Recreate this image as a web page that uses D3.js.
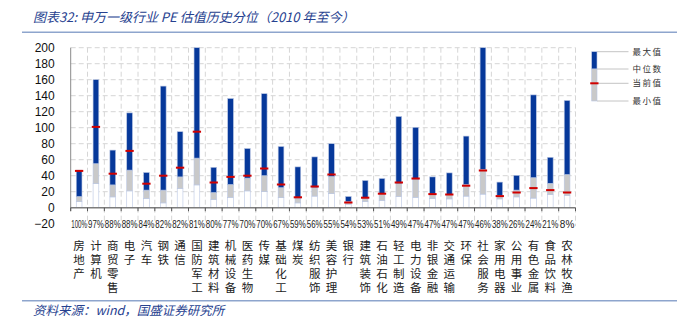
<!DOCTYPE html>
<html>
<head>
<meta charset="utf-8">
<script src="https://cdn.jsdelivr.net/npm/d3@7"></script>
<style>
  html, body { margin: 0; padding: 0; background: #fff; }
  svg { display: block; }
</style>
</head>
<body>
<svg id="chart" width="677" height="326"></svg>
<script>
// 申万一级行业 PE: historical max / median / min since 2010, current value and its percentile
const categories = ["房地产","计算机","商贸零售","电子","汽车","钢铁","通信","国防军工","建筑材料","机械设备",
  "医药生物","传媒","基础化工","煤炭","纺织服饰","美容护理","银行","建筑装饰","石油石化","轻工制造",
  "电力设备","非银金融","交通运输","环保","社会服务","家用电器","公用事业","有色金属","食品饮料","农林牧渔"];
const percentiles = ["100%","97%","88%","88%","84%","82%","82%","81%","80%","77%",
  "70%","70%","67%","59%","56%","55%","54%","53%","51%","49%",
  "47%","47%","47%","47%","46%","38%","26%","24%","21%","8%"];
const maxValues = [47,160,72,118.5,44,152,95,200,50.5,136.5,
  74,142.5,76.5,51,63.5,80,14,34,36.5,114,
  100.5,38.5,43.5,89.5,200,32,40.5,141,63,134];
const medianValues = [14,55,28.5,47,22,22,38.5,62,19,29,
  37,40,25,12,25,39,7.5,12,17.5,30,
  35.5,17,16.5,29,48,15,22,37.5,30.5,41.5];
const currentValues = [46,101,42.5,71,30,40,50,95,31.5,38.5,
  40,49,29,13,26.5,41.5,6.5,12.5,17.5,31.5,
  36.5,17,16.5,27.5,46.5,14.5,19,24.5,22,19];
const minValues = [7.5,30,13.5,21,11.5,6,24,28.5,10,13,
  21,20,12.5,6,14.5,17.5,4.5,7.5,9,14,
  13,11.5,11,14.5,17,11,13.5,12,16.5,15];
const yTicks = [200,180,160,140,120,100,80,60,40,20,0,-20];
const legendLabels = ["最大值","中位数","当前值","最小值"];

const BLUE = "#06389a", GRAY = "#c9c9c9", RED = "#d00000", EDGE = "#b9c6e3";
const TITLE_BLUE = "#26418f";
const CJK = "'Noto Sans CJK SC', sans-serif";
const SANS = "'Liberation Sans', Arial, sans-serif";

const svg = d3.select("#chart");

// Title and footer
svg.append("text").attr("x", 33).attr("y", 21.5)
  .attr("font-family", CJK).attr("font-size", 13).attr("font-style", "italic")
  .attr("fill", TITLE_BLUE)
  .text("图表32:  申万一级行业 PE 估值历史分位（2010 年至今）");
svg.append("line").attr("x1", 22).attr("x2", 677).attr("y1", 32.3).attr("y2", 32.3)
  .attr("stroke", "#8ea5cd").attr("stroke-width", 1.5);
svg.append("line").attr("x1", 22).attr("x2", 677).attr("y1", 300.7).attr("y2", 300.7)
  .attr("stroke", "#8ea5cd").attr("stroke-width", 1.5);
svg.append("text").attr("x", 33).attr("y", 315)
  .attr("font-family", CJK).attr("font-size", 12.5).attr("font-style", "italic")
  .attr("fill", TITLE_BLUE)
  .text("资料来源：wind，国盛证券研究所");

// Scales
const x = d3.scaleBand().domain(categories).range([70.7, 575.5]).padding(0);
const y = d3.scaleLinear().domain([-20, 200]).range([223.7, 47.7]);
const bw = x.bandwidth() * 0.34;

const plot = svg.append("g");

// Dashed grid
plot.append("g").selectAll("line").data(yTicks.filter(t => t > 0)).join("line")
  .attr("x1", x.range()[0]).attr("x2", x.range()[1])
  .attr("y1", d => y(d)).attr("y2", d => y(d))
  .attr("stroke", "#d6d6d6").attr("stroke-dasharray", "5,3");
const boundaries = categories.map(c => x(c)).concat([x.range()[1]]);
plot.append("g").selectAll("line").data(boundaries.slice(1)).join("line")
  .attr("x1", d => d).attr("x2", d => d)
  .attr("y1", y(200)).attr("y2", y(-20) + 2.5)
  .attr("stroke", "#d6d6d6").attr("stroke-dasharray", "5,3");

// Left axis
const yAxis = plot.append("g").attr("transform", `translate(${x.range()[0]},0)`)
  .call(d3.axisLeft(y).tickValues(yTicks).tickSize(0).tickPadding(16));
yAxis.select(".domain").remove();
yAxis.selectAll("text").attr("font-family", SANS).attr("font-size", 12).attr("fill", "#111");
plot.append("line").attr("x1", x.range()[0]).attr("x2", x.range()[0])
  .attr("y1", y(200)).attr("y2", y(0) + 3.5)
  .attr("stroke", "#8a8a8a").attr("stroke-width", 1);

// Bars: min base (white), min→median (gray), median→max (blue)
const idx = d3.range(categories.length);
const bars = plot.append("g");
const cx = i => x(categories[i]) + x.bandwidth() / 2;
const seg = (lo, hi, fill) => bars.append("g").selectAll("rect").data(idx).join("rect")
  .attr("x", i => cx(i) - bw / 2).attr("width", bw)
  .attr("y", i => y(hi[i])).attr("height", i => Math.max(0, y(lo[i]) - y(hi[i])))
  .attr("fill", fill).attr("stroke", EDGE).attr("stroke-width", 0.6);
seg(idx.map(() => 0), minValues, "#ffffff");
seg(minValues, medianValues, GRAY);
seg(medianValues, maxValues, BLUE);

// Current value markers
bars.append("g").selectAll("rect").data(idx).join("rect")
  .attr("x", i => cx(i) - bw / 2 - 1.3).attr("width", bw + 2.6)
  .attr("y", i => y(currentValues[i]) - 1).attr("height", 2)
  .attr("fill", RED);

// Zero line with boundary ticks
plot.append("line").attr("x1", x.range()[0]).attr("x2", x.range()[1])
  .attr("y1", y(0)).attr("y2", y(0)).attr("stroke", "#7d7d7d").attr("stroke-width", 1.6);
plot.append("g").selectAll("line").data(boundaries).join("line")
  .attr("x1", d => d).attr("x2", d => d).attr("y1", y(0)).attr("y2", y(0) + 3.5)
  .attr("stroke", "#555").attr("stroke-width", 1);

// Percentile labels along the bottom of the plot, squeezed horizontally to fit each band
const pctG = plot.append("g").selectAll("g").data(idx).join("g");
pctG.append("text")
  .attr("text-anchor", "middle")
  .attr("font-family", SANS).attr("font-size", 10).attr("fill", "#222")
  .text(i => percentiles[i]);
pctG.each(function (i) {
  const w = d3.select(this).select("text").node().getComputedTextLength();
  const k = Math.min(1, (x.bandwidth() - 1) / w);
  d3.select(this).attr("transform", `translate(${cx(i)},${y(-20) + 4}) scale(${k},1)`);
});

// Vertical industry names: each character set in its own vertical-mode cell
const nameCells = idx.flatMap(i => Array.from(categories[i]).map((ch, k) => ({ i, k, ch })));
plot.append("g").selectAll("text").data(nameCells).join("text")
  .attr("x", d => cx(d.i)).attr("y", d => 240.2 + d.k * 13.8)
  .attr("writing-mode", "vertical-rl")
  .style("text-orientation", "upright")
  .attr("font-family", CJK).attr("font-size", 11.5).attr("fill", "#222")
  .text(d => d.ch);

// Legend
const lg = svg.append("g");
const lx = 591.7, lw = 5.3;
const ly = [51.7, 69, 83.3, 101];
lg.selectAll("line").data(ly).join("line")
  .attr("x1", lx + lw).attr("x2", 628.5).attr("y1", d => d).attr("y2", d => d)
  .attr("stroke", "#c4c4c4").attr("stroke-width", 1);
lg.append("rect").attr("x", lx).attr("width", lw).attr("y", ly[0]).attr("height", ly[1] - ly[0])
  .attr("fill", BLUE).attr("stroke", EDGE).attr("stroke-width", 0.6);
lg.append("rect").attr("x", lx).attr("width", lw).attr("y", ly[1]).attr("height", ly[3] - ly[1])
  .attr("fill", GRAY).attr("stroke", EDGE).attr("stroke-width", 0.6);
lg.append("rect").attr("x", lx - 1.5).attr("width", lw + 3).attr("y", ly[2] - 1).attr("height", 2)
  .attr("fill", RED);
lg.selectAll("text").data(legendLabels).join("text")
  .attr("x", 632.5).attr("y", (d, k) => ly[k] + 3)
  .attr("font-family", CJK).attr("font-size", 8.5).attr("fill", "#333")
  .attr("letter-spacing", 1.5)
  .text(d => d);
</script>
</body>
</html>
